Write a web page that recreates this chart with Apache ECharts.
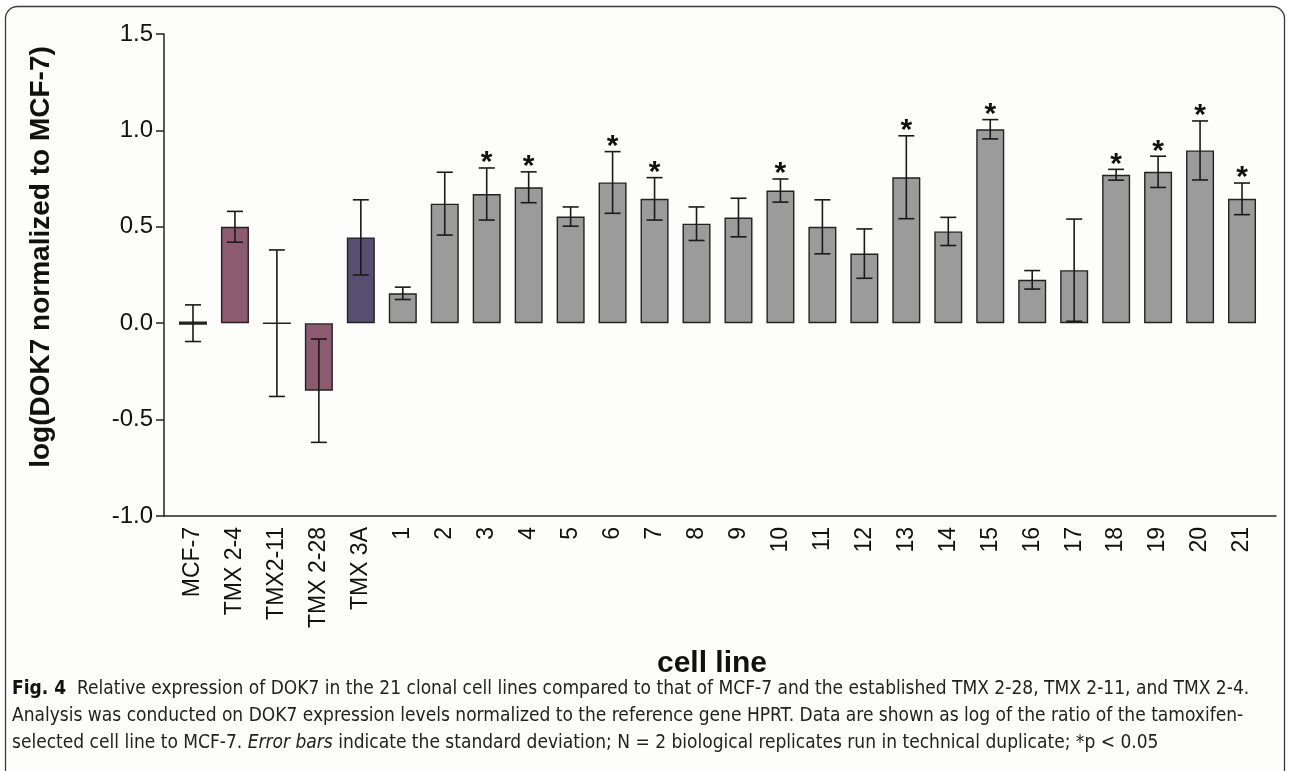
<!DOCTYPE html>
<html>
<head>
<meta charset="utf-8">
<script src="https://cdn.jsdelivr.net/npm/echarts@6/dist/echarts.min.js"></script>
<style>
html,body{margin:0;padding:0;background:#fff;}
#chart{width:1290px;height:771px;}
</style>
</head>
<body>
<div id="chart"></div>
<script>
const categories = ['MCF-7','TMX 2-4','TMX2-11','TMX 2-28','TMX 3A','1','2','3','4','5','6','7','8','9','10','11','12','13','14','15','16','17','18','19','20','21'];
const means = [0, 0.50, 0, -0.35, 0.445, 0.155, 0.62, 0.67, 0.705, 0.553, 0.73, 0.645, 0.516, 0.548, 0.688, 0.50, 0.361, 0.757, 0.476, 1.006, 0.225, 0.275, 0.77, 0.785, 0.896, 0.645];
const sds = [0.095, 0.08, 0.38, 0.268, 0.195, 0.032, 0.163, 0.135, 0.08, 0.05, 0.16, 0.11, 0.087, 0.10, 0.06, 0.14, 0.128, 0.215, 0.073, 0.05, 0.048, 0.265, 0.028, 0.081, 0.153, 0.082];
const significant = [0,0,0,0,0,0,0,1,1,0,1,1,0,0,1,0,0,1,0,1,0,0,1,1,1,1];
const yTicks = [-1.0, -0.5, 0.0, 0.5, 1.0, 1.5];

function barColor(name){
  if (name === 'TMX 2-4' || name === 'TMX 2-28') return '#8c5b70';
  if (name === 'TMX 3A') return '#574f70';
  return '#9a9b9a';
}

const chart = echarts.init(document.getElementById('chart'), null, {renderer:'canvas'});
const F = 'Liberation Sans, Arial, Helvetica, sans-serif';
const CAP = '"Liberation Sans Narrow", "DejaVu Sans Condensed", "Roboto Condensed", sans-serif';

const barData = means.map((v,i)=>({value:v, itemStyle:{color:barColor(categories[i]), borderWidth:(categories[i]==='MCF-7'?3.2:1.4)}}));
const errData = means.map((v,i)=>[i, v, sds[i]]);
const starData = means.map((v,i)=>[i, v + sds[i], significant[i]]).filter(d=>d[2]===1);

const option = {
  backgroundColor:'#ffffff',
  animation:false,
  graphic:[
    {type:'rect', shape:{x:5.5, y:6.5, width:1279, height:800, r:12}, style:{fill:'#fdfdfc', stroke:'#3a3a3a', lineWidth:1.3}, z:-10},
    {type:'text', x:41, y:257, rotation:Math.PI/2, style:{text:'log(DOK7 normalized to MCF-7)', font:'bold 28px '+F, fill:'#111', textAlign:'center', textVerticalAlign:'middle'}},
    {type:'text', x:712, y:664, style:{text:'cell line', font:'bold 30px '+F, fill:'#111', textAlign:'center', textVerticalAlign:'middle'}},
    {type:'text', x:12, y:689, style:{
      text:'{b|Fig. 4}  Relative expression of DOK7 in the 21 clonal cell lines compared to that of MCF-7 and the established TMX 2-28, TMX 2-11, and TMX 2-4.',
      font:'19px '+CAP, fill:'#222', textVerticalAlign:'middle',
      rich:{b:{font:'bold 19px '+CAP, fill:'#111'}}}},
    {type:'text', x:12, y:716, style:{
      text:'Analysis was conducted on DOK7 expression levels normalized to the reference gene HPRT. Data are shown as log of the ratio of the tamoxifen-',
      font:'19px '+CAP, fill:'#222', textVerticalAlign:'middle'}},
    {type:'text', x:12, y:743, style:{
      text:'selected cell line to MCF-7. {i|Error bars} indicate the standard deviation; N = 2 biological replicates run in technical duplicate; *p < 0.05',
      font:'19px '+CAP, fill:'#222', textVerticalAlign:'middle',
      rich:{i:{font:'italic 19px '+CAP, fill:'#222'}}}}
  ],
  grid:[
    {left:172, right:27, top:34, bottom:255},
    {left:164, right:14, top:34, bottom:255}
  ],
  xAxis:[
    {type:'category', gridIndex:0, data:categories,
     axisLine:{show:false}, axisTick:{show:false},
     axisLabel:{rotate:90, interval:0, fontSize:23, fontFamily:F, color:'#111', margin:11}},
    {type:'value', gridIndex:1, min:0, max:1, show:true,
     axisLine:{show:true, onZero:false, lineStyle:{color:'#222', width:1.5}}, axisTick:{show:false}, axisLabel:{show:false}, splitLine:{show:false}}
  ],
  yAxis:[
    {type:'value', gridIndex:0, min:-1, max:1.5, interval:0.5, show:false, splitLine:{show:false}},
    {type:'value', gridIndex:1, min:-1, max:1.5, interval:0.5,
     axisLine:{show:true, lineStyle:{color:'#222', width:1.5}},
     axisTick:{show:true, length:8, lineStyle:{color:'#222', width:1.5}},
     axisLabel:{fontSize:24, fontFamily:F, color:'#111', margin:11, formatter:v=>v.toFixed(1)},
     splitLine:{show:false}}
  ],
  series:[
    {type:'bar', xAxisIndex:0, yAxisIndex:0, data:barData, barWidth:28,
     itemStyle:{borderColor:'#222', borderWidth:1.4}},
    {type:'custom', xAxisIndex:0, yAxisIndex:0, data:errData, z:5,
     renderItem:function(params, api){
       const i = api.value(0), m = api.value(1), s = api.value(2);
       const top = api.coord([i, m + s]);
       const bot = api.coord([i, m - s]);
       const half = 8;
       const st = {stroke:'#1a1a1a', lineWidth:1.6};
       return {type:'group', children:[
         {type:'line', shape:{x1:top[0], y1:top[1], x2:bot[0], y2:bot[1]}, style:st},
         {type:'line', shape:{x1:top[0]-half, y1:top[1], x2:top[0]+half, y2:top[1]}, style:st},
         {type:'line', shape:{x1:bot[0]-half, y1:bot[1], x2:bot[0]+half, y2:bot[1]}, style:st}
       ]};
     }},
    {type:'custom', xAxisIndex:0, yAxisIndex:0, data:starData, z:6,
     renderItem:function(params, api){
       const p = api.coord([api.value(0), api.value(1)]);
       return {type:'text', x:p[0], y:p[1]-5, style:{text:'*', font:'bold 30px '+F, fill:'#111', textAlign:'center', textVerticalAlign:'middle'}};
     }}
  ]
};
chart.setOption(option);
</script>
</body>
</html>
